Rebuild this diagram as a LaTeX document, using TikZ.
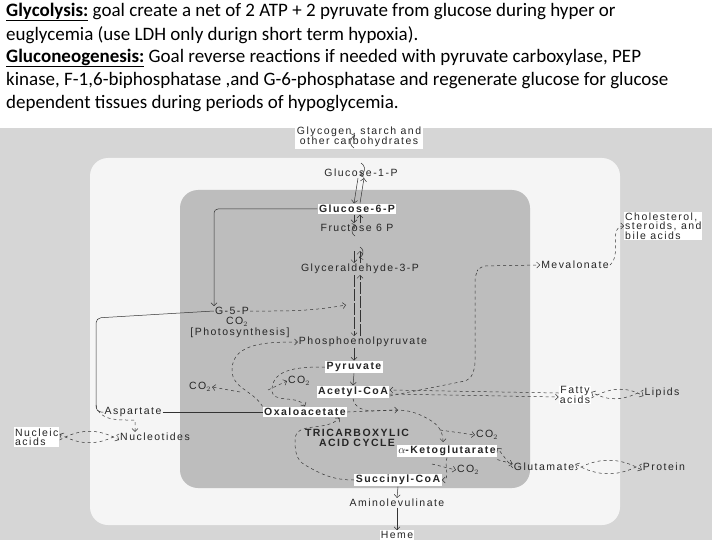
\documentclass[tikz,border=0pt]{standalone}
\usepackage{fontspec}
\setmainfont{Liberation Sans}
\newfontfamily\diag[LetterSpace=14]{Liberation Sans}
\newfontfamily\calfont{Carlito}
\usetikzlibrary{arrows.meta}
\begin{document}
\begin{tikzpicture}[x=1pt,y=-1pt,
  lab/.style={font=\diag\fontsize{10.5}{10.5}\selectfont, inner sep=1pt, text=black!85},
  blab/.style={lab, font=\diag\fontsize{10.5}{10.5}\selectfont\bfseries, fill=white, inner sep=1.5pt},
  ln/.style={draw=black!80, line width=0.5pt, -{Straight Barb[length=3pt]}},
  pl/.style={draw=black!80, line width=0.5pt},
  ds/.style={ln, dashed},
  top/.style={anchor=west, font=\calfont\fontsize{19}{20}\selectfont, inner sep=0pt}]
\useasboundingbox (0,0) rectangle (720,540);
\fill[white] (0,0) rectangle (720,540);
\fill[black!16] (0,128) rectangle (712,540);
\fill[black!4, rounded corners=18pt] (90,158) rectangle (620,525);
\fill[black!26, rounded corners=18pt] (180,190) rectangle (530,488);
% top text
\node[top] (t1) at (6,12) {\textbf{\underline{Glycolysis:}} goal create a net of 2 ATP + 2 pyruvate from glucose during hyper or};
\node[top] (t2) at (6,35) {euglycemia (use LDH only durign short term hypoxia).};
\node[top] (t3) at (6,58) {\textbf{\underline{Gluconeogenesis:}} Goal reverse reactions if needed with pyruvate carboxylase, PEP};
\node[top] (t4) at (6,81) {kinase, F-1,6-biphosphatase ,and G-6-phosphatase and regenerate glucose for glucose};
\node[top] (t5) at (6,104) {dependent tissues during periods of hypoglycemia.};
% nodes
\node[lab, fill=white, align=center, inner sep=2pt] (glyc) at (359,137) {Glycogen, starch and\\[-1pt]other carbohydrates};
\node[lab] (g1p) at (361,173) {Glucose-1-P};
\node[blab] (g6p) at (357,209) {Glucose-6-P};
\node[lab] (f6p) at (357,228) {Fructose 6 P};
\node[lab] (ga3p) at (360,269) {Glyceraldehyde-3-P};
\node[lab] (g5p) at (232,311) {G-5-P};
\node[lab] (co2a) at (237,322) {CO$_2$};
\node[lab] (phot) at (240,333) {[Photosynthesis]};
\node[lab] (pep) at (363,342) {Phosphoenolpyruvate};
\node[blab] (pyr) at (354,367) {Pyruvate};
\node[lab] (co2b) at (299,381) {CO$_2$};
\node[lab] (co2c) at (200,387) {CO$_2$};
\node[blab] (acoa) at (353,392) {Acetyl-CoA};
\node[lab, fill=white, align=center] (fa) at (575,395) {Fatty\\[-1pt]acids};
\node[lab] (lip) at (662,393) {Lipids};
\node[lab] (mev) at (575,265) {Mevalonate};
\node[lab, fill=white, align=left, anchor=west] (chol) at (624,226) {Cholesterol,\\[-1pt]steroids, and\\[-1pt]bile acids};
\node[lab] (asp) at (133,412) {Aspartate};
\node[blab] (oaa) at (305,412) {Oxaloacetate};
\node[lab, fill=white, align=left, anchor=west] (nuca) at (14,437) {Nucleic\\[-1pt]acids};
\node[lab] (nucl) at (155,437) {Nucleotides};
\node[lab, font=\diag\fontsize{10.5}{10.5}\selectfont\bfseries, align=center] (tca) at (357,438) {TRICARBOXYLIC\\[-1pt]ACID CYCLE};
\node[lab] (co2d) at (487,435) {CO$_2$};
\node[blab] (akg) at (447,451) {$\alpha$-Ketoglutarate};
\node[lab] (glu) at (544,467) {Glutamate};
\node[lab] (prot) at (664,467) {Protein};
\node[lab] (co2e) at (468,470) {CO$_2$};
\node[blab] (scoa) at (398,480) {Succinyl-CoA};
\node[lab] (ala) at (397,503) {Aminolevulinate};
\node[lab, fill=white] (heme) at (397,535) {Heme};
% glycogen cycle
\draw[ln] (354,148) arc[start angle=120,end angle=250,radius=7];
\draw[ln] (361,163) arc[start angle=-60,end angle=70,radius=7];
% main axis
\draw[ln] ([xshift=-3pt]g1p.south) -- ([xshift=-3pt]g6p.north);
\draw[ln] ([xshift=3pt]g6p.north) -- ([xshift=3pt]g1p.south);
\draw[ln] ([xshift=-3pt]g6p.south) -- ([xshift=-3pt]f6p.north);
\draw[ln] ([xshift=3pt]f6p.north) -- ([xshift=3pt]g6p.south);
\draw[ln] (355,236) arc[start angle=120,end angle=250,radius=6];
\draw[ln] (360,247) arc[start angle=-60,end angle=70,radius=6];
\draw[ln] (354,251) -- (354,263);
\draw[ln] (360,263) -- (360,251);
\draw[ln, dash pattern=on 12pt off 2pt] (354,275) -- (354,336);
\draw[ln, dash pattern=on 12pt off 2pt] (360,336) -- (360,275);
\draw[ln] (pep.south -| pyr) -- (pyr.north);
\draw[ln] (pyr.south) -- (acoa.north);
% pentose
\draw[ln, rounded corners=4pt] (g6p.west) -- (214,209) -- (g5p.north -| 214,0);
\draw[ds] (g5p.east) to[out=0,in=190] (346,305);
\draw[pl, rounded corners=5pt] (g5p.west) -- (96,318) -- (96,412) -- (asp.west);
\draw[ds] (96,405) to[out=-80,in=180] (135,420) -- (nucl.north -| 135,0);
\draw[pl] (asp.east) -- (oaa.west);
\draw[ln, dashed] ([yshift=-3pt]nuca.east) to[out=30,in=150] ([yshift=-3pt]nucl.west);
\draw[ln, dashed] ([yshift=3pt]nucl.west) to[out=-150,in=-30] ([yshift=3pt]nuca.east);
% oxaloacetate - PEP
\draw[ds] (oaa.north west) to[out=120,in=-90] (232,370) to[out=90,in=180] (pep.west);
\draw[ds] (pyr.west) to[out=180,in=90] (272,390) to[out=-90,in=120] (oaa.north);
\draw[ds] (268,390) -- (co2b.west);
\draw[ds] (240,392) -- (co2c.east);
% acetyl-CoA links
\draw[ds] ([yshift=-2pt]acoa.east) -- ([yshift=-2pt]fa.west);
\draw[ds] ([yshift=2pt]fa.west) -- ([yshift=2pt]acoa.east);
\draw[ln, dashed] ([yshift=-3pt]fa.east) to[out=30,in=150] ([yshift=-3pt]lip.west);
\draw[ln, dashed] ([yshift=3pt]lip.west) to[out=-150,in=-30] ([yshift=3pt]fa.east);
\draw[ln, rounded corners=6pt, dashed] ([yshift=-4pt]acoa.east) -- (470,380) -- (475,368) -- (475,275) -- (480,266) -- (mev.west);
\draw[ds] (mev.east) to[out=40,in=180] (chol.west);
% TCA cycle
\draw[ds] (acoa.south) to[out=-80,in=180] (395,410) to[out=0,in=150] (430,420) to[out=-30,in=90] (443,442);
\draw[ds] (oaa.east) -- (398,410);
\draw[ds] (440,430) -- (co2d.west);
\draw[ds] (akg.south) to[out=-110,in=0] (scoa.east);
\draw[ds] (432,464) -- (co2e.west);
\draw[ds] (scoa.west) to[out=180,in=-30] (305,465) to[out=150,in=-90] (295,440) to[out=90,in=-130] ([xshift=-8pt]oaa.south east);
\draw[ds] ([yshift=-2pt]akg.south east) -- ([yshift=-2pt]glu.north west);
\draw[ds] ([yshift=-1pt]glu.west) -- ([yshift=3pt]akg.east);
\draw[ln, dashed] ([yshift=-3pt]glu.east) to[out=30,in=150] ([yshift=-3pt]prot.west);
\draw[ln, dashed] ([yshift=3pt]prot.west) to[out=-150,in=-30] ([yshift=3pt]glu.east);
\draw[ln] (scoa.south) -- (ala.north);
\draw[ln] (ala.south) -- (heme.north);
\end{tikzpicture}
\end{document}
